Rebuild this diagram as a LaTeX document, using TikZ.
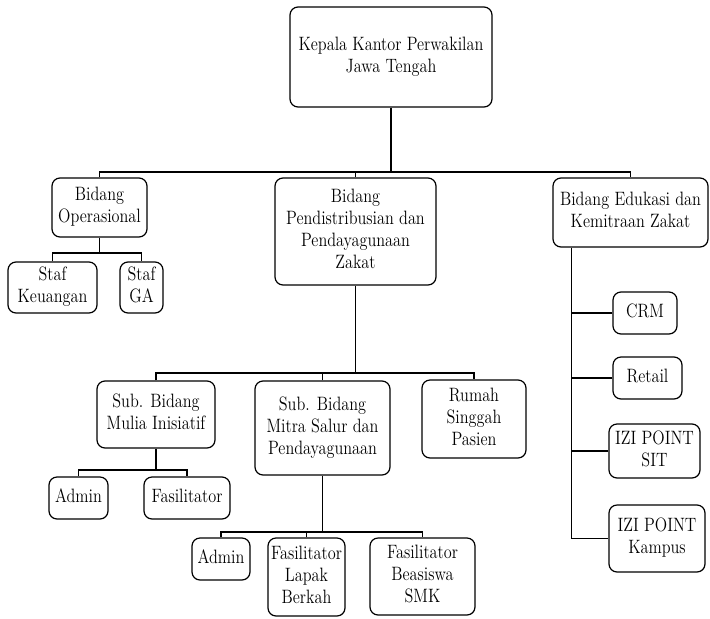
\documentclass[tikz,border=0pt]{standalone}
\usetikzlibrary{arrows, arrows.meta}
\usetikzlibrary{calc}
\newcommand{\narrowtext}[1]{\scalebox{0.84}[1]{\begin{tabular}{@{}c@{}}#1\end{tabular}}}

\begin{document}
\begin{tikzpicture}[x=0.75pt, y=-0.75pt,
    orgbox/.style={draw, rounded corners=6pt, line width=0.9pt, align=center, inner sep=1pt,
      font=\fontsize{14.5}{16.5}\selectfont},
    link/.style={line width=0.9pt},
    dims/.style 2 args={minimum width=#1*0.75pt, minimum height=#2*0.75pt}]
      \useasboundingbox (0,0) rectangle (710,618);

      \node[orgbox, dims={202}{100}] (kepala) at (391,57) {\narrowtext{Kepala Kantor Perwakilan\\Jawa Tengah}};
      \node[orgbox, dims={95}{59}] (opr) at (99.5,207.5) {\narrowtext{Bidang\\Operasional}};
      \node[orgbox, dims={161}{107}] (pend) at (355.5,231.5) {\narrowtext{Bidang\\Pendistribusian dan\\Pendayagunaan\\Zakat}};
      \node[orgbox, dims={155}{69}] (edu) at (630.5,212.5) {\narrowtext{Bidang Edukasi dan\\Kemitraan Zakat}};

      \node[orgbox, dims={89}{51}] (keu) at (52.5,287.5) {\narrowtext{Staf\\Keuangan}};
      \node[orgbox, dims={43}{51}] (ga) at (141.5,287.5) {\narrowtext{Staf\\GA}};

      \node[orgbox, dims={118}{67}] (mulia) at (156,414.5) {\narrowtext{Sub. Bidang\\Mulia Inisiatif}};
      \node[orgbox, dims={135}{94}] (mitra) at (322.5,428) {\narrowtext{Sub. Bidang\\Mitra Salur dan\\Pendayagunaan}};
      \node[orgbox, dims={104}{78}] (rumah) at (474,419) {\narrowtext{Rumah\\Singgah\\Pasien}};

      \node[orgbox, dims={59}{42}] (admA) at (78.5,498) {\narrowtext{Admin}};
      \node[orgbox, dims={86}{42}] (fasA) at (187,498) {\narrowtext{Fasilitator}};

      \node[orgbox, dims={58}{42}] (admB) at (221,559) {\narrowtext{Admin}};
      \node[orgbox, dims={77}{78}] (lapak) at (306.5,577) {\narrowtext{Fasilitator\\Lapak\\Berkah}};
      \node[orgbox, dims={105}{77}] (smk) at (422.5,576.5) {\narrowtext{Fasilitator\\Beasiswa\\SMK}};

      \node[orgbox, dims={64}{42}] (crm) at (645,313) {\narrowtext{CRM}};
      \node[orgbox, dims={69}{42}] (retail) at (647.5,378) {\narrowtext{Retail}};
      \node[orgbox, dims={91}{54}] (sit) at (654.5,451) {\narrowtext{IZI POINT\\SIT}};
      \node[orgbox, dims={96}{67}] (kampus) at (657,538.5) {\narrowtext{IZI POINT\\Kampus}};

      % top level
      \coordinate (j1) at (391,172);
      \draw[link] (kepala.south) -- (j1);
      \draw[link] (opr.north) |- (j1) -| (edu.north);
      \draw[link] (pend.north) -- (pend.north |- j1);

      % operasional
      \coordinate (j2) at (99.5,253);
      \draw[link] (opr.south) -- (j2);
      \draw[link] (keu.north) |- (j2) -| (ga.north);

      % pendistribusian
      \coordinate (j3) at (355.5,373);
      \draw[link] (pend.south) -- (j3);
      \draw[link] (mulia.north) |- (j3) -| (rumah.north);
      \draw[link] (mitra.north) -- (mitra.north |- j3);

      \coordinate (j4) at (156,470);
      \draw[link] (mulia.south) -- (j4);
      \draw[link] (admA.north) |- (j4) -| (fasA.north);

      \coordinate (j5) at (322.5,532);
      \draw[link] (mitra.south) -- (j5);
      \draw[link] (admB.north) |- (j5) -| (smk.north);
      \draw[link] (lapak.north) -- (lapak.north |- j5);

      % edukasi
      \coordinate (trunk) at ([xshift=14.25pt]edu.south west);
      \draw[link] (trunk) |- (kampus.west);
      \foreach \n in {crm, retail, sit}
        \draw[link] (\n.west) -- (\n.west -| trunk);
    \end{tikzpicture}
\end{document}
